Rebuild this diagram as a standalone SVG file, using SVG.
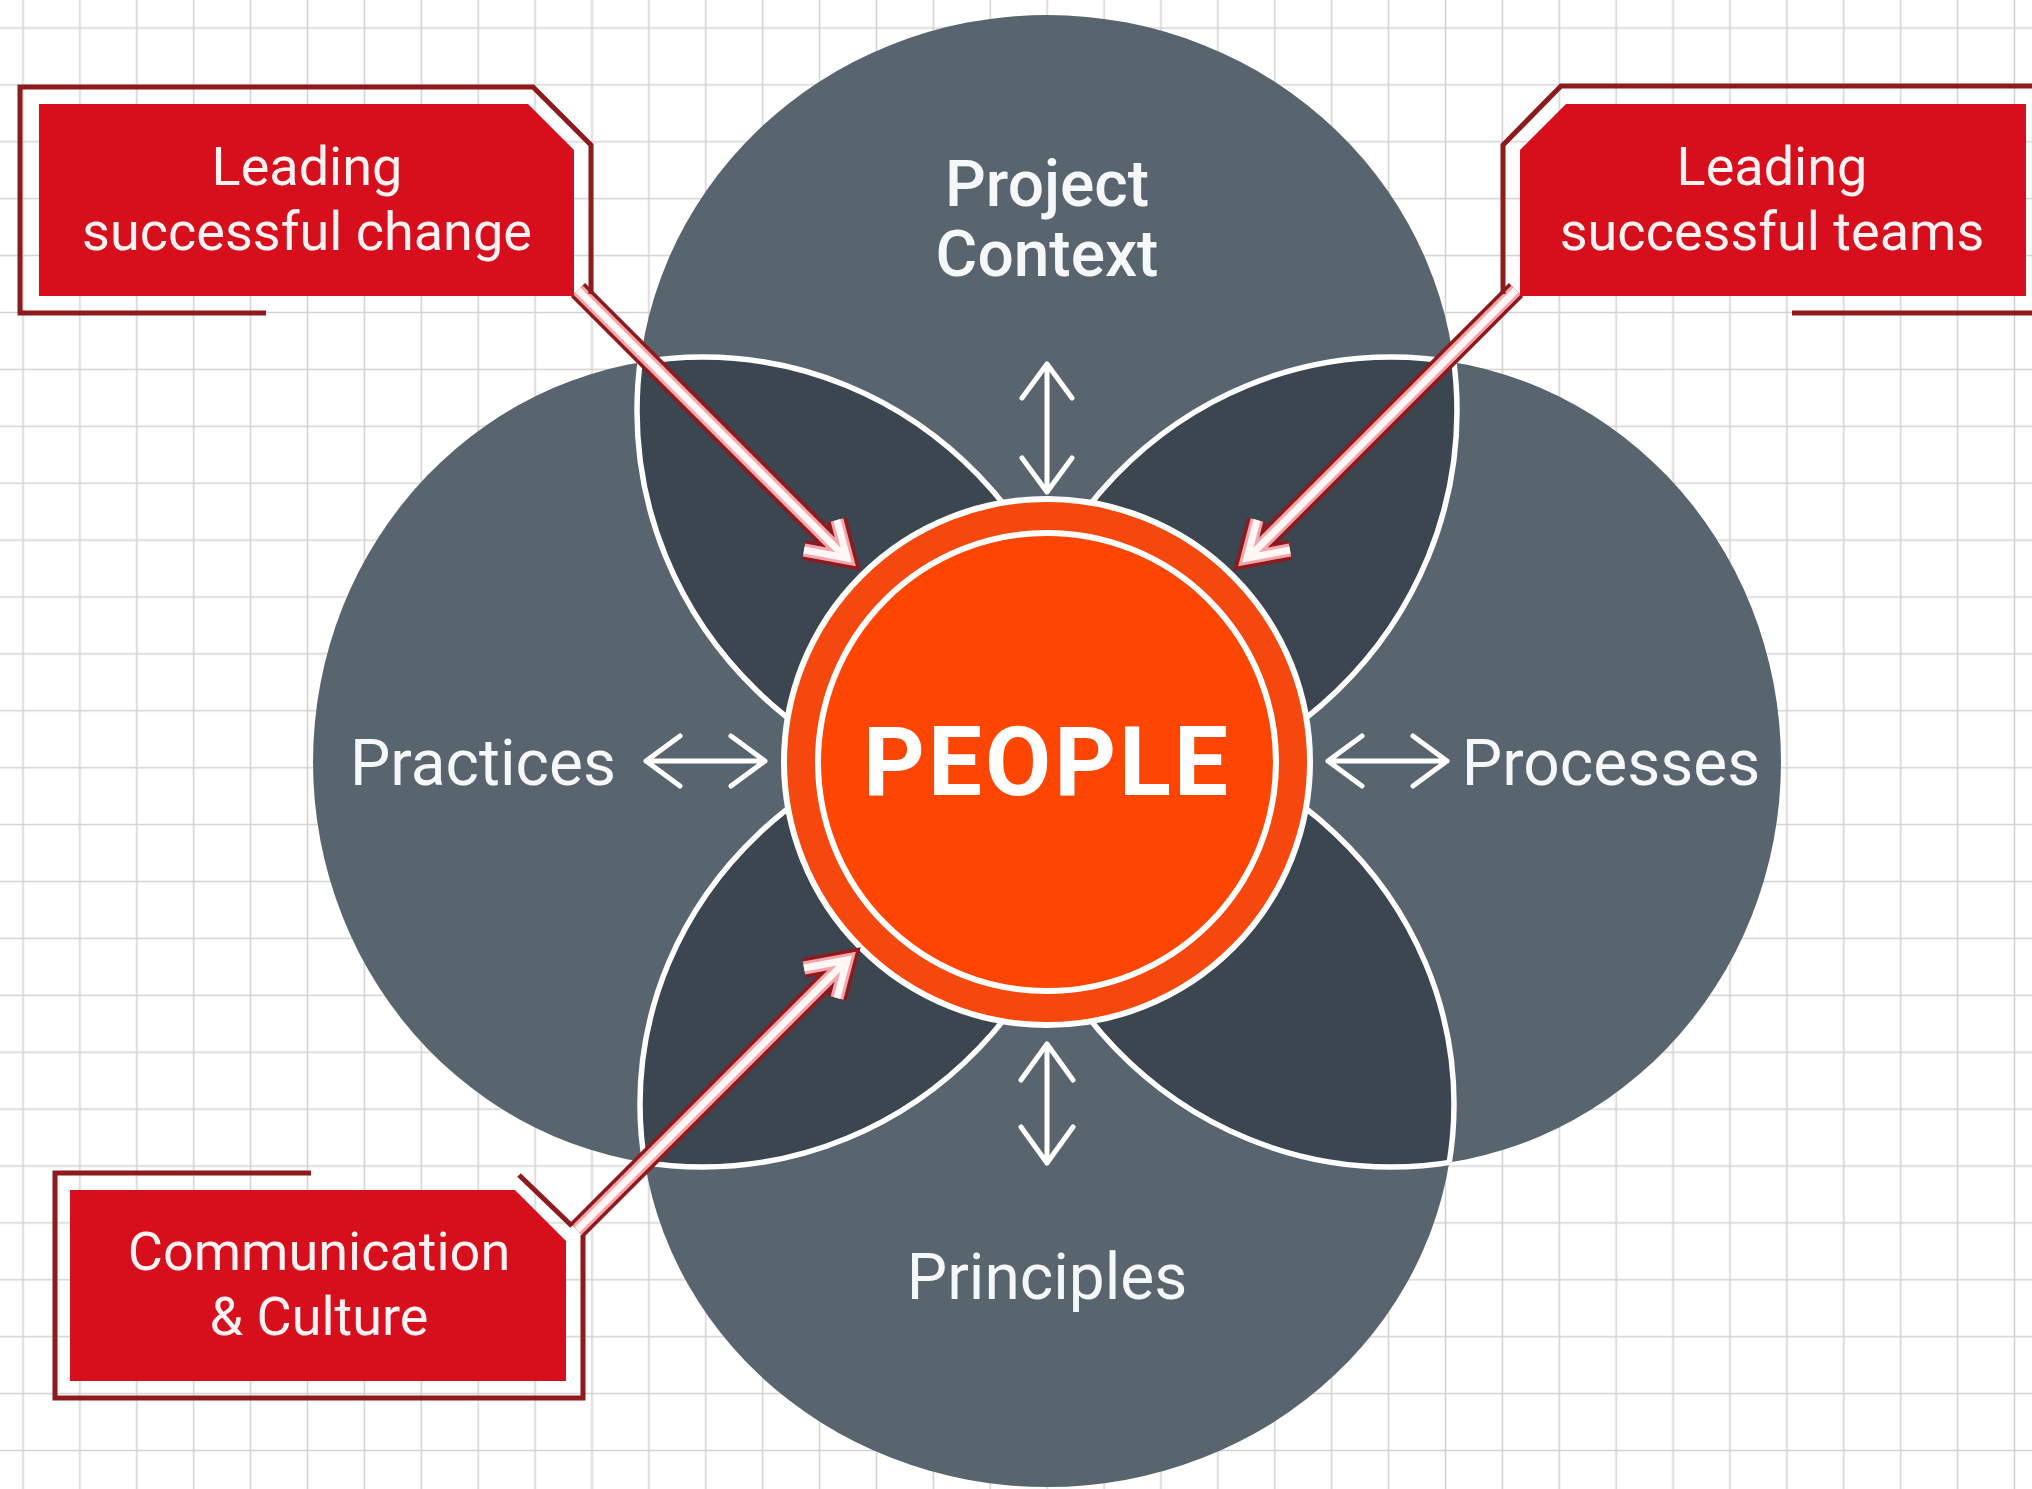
<svg xmlns="http://www.w3.org/2000/svg" width="2032" height="1489" viewBox="0 0 2032 1489">
<defs>
<pattern id="grid" x="-5.45" y="-0.45" width="56.9" height="56.9" patternUnits="userSpaceOnUse">
<path d="M28.45 0V56.9M0 28.45H56.9" stroke="#d3d3d3" stroke-width="1.6" fill="none"/>
</pattern>
<clipPath id="clipT"><ellipse cx="1047" cy="411" rx="410" ry="396"/></clipPath>
<clipPath id="clipB"><ellipse cx="1047" cy="1104" rx="407" ry="383"/></clipPath>
<clipPath id="clipL"><ellipse cx="703" cy="762" rx="390" ry="405"/></clipPath>
<clipPath id="clipR"><ellipse cx="1391" cy="762" rx="390" ry="405"/></clipPath>
</defs>
<style>
.circ{fill:#59656e}
.lens{fill:#3b4650}
.edge{fill:none;stroke:#ffffff;stroke-width:5.5}
.lbl{font-family:Roboto,"Liberation Sans",sans-serif;fill:#f5f7f8;font-weight:400;font-size:64px;text-anchor:middle}
.lbl-m{font-weight:500}
.people{font-family:Roboto,"Liberation Sans",sans-serif;font-weight:700;font-size:96px;fill:#ffffff;text-anchor:middle;letter-spacing:3px}
.box{fill:#d70e1b}
.frame{fill:none;stroke:#8e1a1e;stroke-width:5}
.ctext{font-family:Roboto,"Liberation Sans",sans-serif;font-size:54px;fill:#fff2f2;text-anchor:middle}
.biarrow{fill:none;stroke:#ffffff;stroke-width:5;stroke-linecap:round;stroke-linejoin:round}
.band-o{fill:none;stroke:#8e1a1e;stroke-width:20}
.band-m{fill:none;stroke:#f2a6ac;stroke-width:13}
.band-i{fill:none;stroke:#fff6f6;stroke-width:7}
</style>
<rect x="0" y="0" width="2032" height="1489" fill="#ffffff"/>
<rect x="0" y="0" width="2032" height="1489" fill="url(#grid)"/>

<g id="node-project-context">
<ellipse class="circ" cx="1047" cy="411" rx="410" ry="396"/>
</g>
<g id="node-practices">
<ellipse class="circ" cx="703" cy="762" rx="390" ry="405"/>
</g>
<g id="node-processes">
<ellipse class="circ" cx="1391" cy="762" rx="390" ry="405"/>
</g>
<g id="node-principles">
<ellipse class="circ" cx="1047" cy="1104" rx="407" ry="383"/>
</g>

<g id="overlaps">
<ellipse class="lens" cx="1047" cy="411" rx="410" ry="396" clip-path="url(#clipL)"/>
<ellipse class="lens" cx="1047" cy="411" rx="410" ry="396" clip-path="url(#clipR)"/>
<ellipse class="lens" cx="1047" cy="1104" rx="407" ry="383" clip-path="url(#clipL)"/>
<ellipse class="lens" cx="1047" cy="1104" rx="407" ry="383" clip-path="url(#clipR)"/>
<ellipse class="edge" cx="1047" cy="411" rx="410" ry="396" clip-path="url(#clipL)"/>
<ellipse class="edge" cx="1047" cy="411" rx="410" ry="396" clip-path="url(#clipR)"/>
<ellipse class="edge" cx="1047" cy="1104" rx="407" ry="383" clip-path="url(#clipL)"/>
<ellipse class="edge" cx="1047" cy="1104" rx="407" ry="383" clip-path="url(#clipR)"/>
<ellipse class="edge" cx="703" cy="762" rx="390" ry="405" clip-path="url(#clipT)"/>
<ellipse class="edge" cx="703" cy="762" rx="390" ry="405" clip-path="url(#clipB)"/>
<ellipse class="edge" cx="1391" cy="762" rx="390" ry="405" clip-path="url(#clipT)"/>
<ellipse class="edge" cx="1391" cy="762" rx="390" ry="405" clip-path="url(#clipB)"/>
</g>

<g id="labels">
<text class="lbl lbl-m" x="1047" y="206">Project</text>
<text class="lbl lbl-m" x="1047" y="276">Context</text>
<text class="lbl" x="483" y="785">Practices</text>
<text class="lbl" x="1611" y="785">Processes</text>
<text class="lbl" x="1047" y="1299">Principles</text>
</g>

<g id="node-people">
<circle cx="1047" cy="762" r="263" fill="#f4480e" stroke="#ffffff" stroke-width="6"/>
<circle cx="1047" cy="762" r="229" fill="#fe4502" stroke="#ffffff" stroke-width="6"/>
<text class="people" x="1047" y="795">PEOPLE</text>
</g>

<g id="connectors">
<path class="biarrow" d="M1047,364V492M1022,398L1047,364L1072,398M1022,458L1047,492L1072,458"/>
<path class="biarrow" d="M1047,1044V1163M1021,1080L1047,1044L1073,1080M1021,1127L1047,1163L1073,1127"/>
<path class="biarrow" d="M646,761H765M680,736L646,761L680,786M731,736L765,761L731,786"/>
<path class="biarrow" d="M1328,761H1447M1362,736L1328,761L1362,786M1413,736L1447,761L1413,786"/>

<path class="band-o" d="M578,290L847,559M804,550L847,558L837,520"/>
<path class="band-m" d="M578,290L847,559M804,550L847,558L837,520"/>
<path class="band-i" d="M578,290L847,559M804,550L847,558L837,520"/>
<path class="band-o" d="M1516,290L1247,559M1290,550L1247,558L1257,520"/>
<path class="band-m" d="M1516,290L1247,559M1290,550L1247,558L1257,520"/>
<path class="band-i" d="M1516,290L1247,559M1290,550L1247,558L1257,520"/>
<path class="band-o" d="M577,1230L847,960M804,968L847,960L837,998"/>
<path class="band-m" d="M577,1230L847,960M804,968L847,960L837,998"/>
<path class="band-i" d="M577,1230L847,960M804,968L847,960L837,998"/>
</g>

<g id="callout-change">
<path class="frame" d="M266,313H20V87H533L591,145V294"/>
<path class="box" d="M39,104H528L574,150V296H39Z"/>
<text class="ctext" x="307" y="185">Leading</text>
<text class="ctext" x="307" y="250">successful change</text>
</g>

<g id="callout-teams">
<path class="frame" d="M2040,86H1561L1503,145V294"/>
<path class="frame" d="M1792,313H2040"/>
<path class="box" d="M1566,104H2026V296H1520V150Z"/>
<text class="ctext" x="1772" y="185">Leading</text>
<text class="ctext" x="1772" y="250">successful teams</text>
</g>

<g id="callout-communication">
<path class="frame" d="M311,1173H55V1398H583V1235"/>
<path class="frame" d="M519,1175L572,1226"/>
<path class="box" d="M70,1190H515L566,1241V1381H70Z"/>
<text class="ctext" x="319" y="1270">Communication</text>
<text class="ctext" x="319" y="1335">&amp; Culture</text>
</g>
</svg>
